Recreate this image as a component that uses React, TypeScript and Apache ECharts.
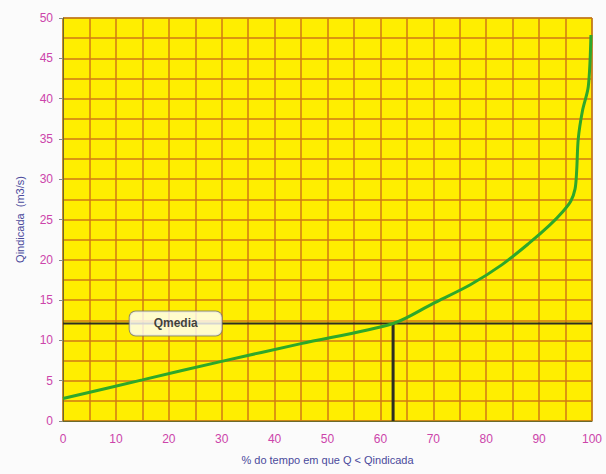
import React, { useEffect, useRef } from "react";
import * as echarts from "echarts";

const curveX = [0, 15, 30, 45, 62.4, 70, 77, 83, 88, 92, 94.5, 96, 96.8, 97.1, 97.4, 98.2, 99.3, 99.8];
const curveY = [2.8, 5.1, 7.4, 9.6, 12.1, 14.6, 16.9, 19.4, 22.0, 24.3, 26.0, 27.3, 28.8, 31, 35, 38.5, 41.5, 47.9];
const qMedia = 12.1;
const qMediaPct = 62.4;
const qMediaLabel = "Qmedia";
const xName = "% do tempo em que Q < Qindicada";
const yName = "Qindicada  (m3/s)";

export default function App() {
  const ref = useRef<HTMLDivElement>(null);
  useEffect(() => {
    const chart = echarts.init(ref.current!, null, { renderer: "svg" });
    const gridColor = "#d07a14";
    chart.setOption({
      animation: false,
      backgroundColor: "#fbfbfb",
      grid: { left: 63, right: 14, top: 18, bottom: 53, show: true, backgroundColor: "#ffee00", borderColor: "#6b6a2a", borderWidth: 1 },
      xAxis: {
        type: "value", min: 0, max: 100, interval: 10,
        name: xName, nameLocation: "middle", nameGap: 33,
        nameTextStyle: { color: "#4a4a9c", fontSize: 11, fontFamily: "Liberation Sans" },
        axisLine: { show: true, lineStyle: { color: "#6b6a2a" } },
        axisTick: { show: false },
        axisLabel: { color: "#cc44aa", fontSize: 12, fontFamily: "Liberation Sans", margin: 12 },
        splitLine: { show: true, lineStyle: { color: gridColor, width: 1.5 } },
        minorTick: { show: false, splitNumber: 2 },
        minorSplitLine: { show: true, lineStyle: { color: gridColor, width: 1.5 } },
      },
      yAxis: {
        type: "value", min: 0, max: 50, interval: 5,
        name: yName, nameLocation: "middle", nameGap: 38,
        nameTextStyle: { color: "#4a4a9c", fontSize: 11, fontFamily: "Liberation Sans" },
        axisLine: { show: true, lineStyle: { color: "#6b6a2a" } },
        axisTick: { show: true, length: 4, lineStyle: { color: "#888" } },
        axisLabel: { color: "#cc44aa", fontSize: 12, fontFamily: "Liberation Sans", margin: 10 },
        splitLine: { show: true, lineStyle: { color: gridColor, width: 1.5 } },
        minorTick: { show: false, splitNumber: 2 },
        minorSplitLine: { show: true, lineStyle: { color: gridColor, width: 1.5 } },
      },
      series: [
        {
          type: "line", data: [[0, qMedia], [100, qMedia]], symbol: "none",
          lineStyle: { color: "#2e2e22", width: 2 }, z: 3,
        },
        {
          type: "line", data: [[qMediaPct, 0], [qMediaPct, qMedia]], symbol: "none",
          lineStyle: { color: "#2e2e22", width: 3 }, z: 3,
        },
        {
          type: "line", data: curveX.map((x, i) => [x, curveY[i]]), symbol: "none",
          smooth: 0.3,
          lineStyle: { color: "#2ea82a", width: 3 }, z: 4,
        },
        {
          type: "scatter", data: [[21.3, qMedia]], symbolSize: 0, z: 5,
          label: {
            show: true, position: "inside", formatter: qMediaLabel,
            backgroundColor: "#ffffff", borderColor: "#777", borderWidth: 1, borderRadius: 6,
            padding: [6, 24, 6, 24], color: "#111", fontWeight: "bold", fontSize: 12, fontFamily: "Liberation Sans",
          },
        },
      ],
    });
    return () => chart.dispose();
  }, []);
  return <div ref={ref} style={{ position: "fixed", left: 0, top: 0, width: 606, height: 474 }} />;
}
